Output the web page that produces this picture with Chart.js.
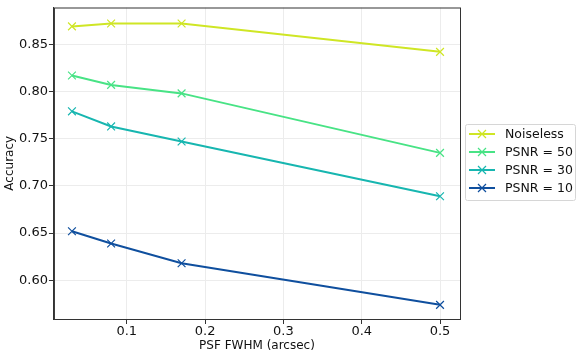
<!DOCTYPE html>
<html>
<head>
<meta charset="utf-8">
<script src="https://cdn.jsdelivr.net/npm/chart.js@4/dist/chart.umd.min.js"></script>
<style>
html,body{margin:0;padding:0;background:#fff;}
#wrap{width:581px;height:358px;position:relative;}
</style>
</head>
<body>
<div id="wrap"><canvas id="c" width="581" height="358"></canvas></div>
<script>
const psfFwhm = [0.03, 0.08, 0.17, 0.5];
const seriesLabels = ['Noiseless', 'PSNR = 50', 'PSNR = 30', 'PSNR = 10'];
const noiseless = [0.869, 0.872, 0.872, 0.842];
const psnr50 = [0.817, 0.807, 0.798, 0.735];
const psnr30 = [0.779, 0.763, 0.747, 0.689];
const psnr10 = [0.652, 0.639, 0.618, 0.574];
const xTicks = [0.1, 0.2, 0.3, 0.4, 0.5];
const yTicks = [0.60, 0.65, 0.70, 0.75, 0.80, 0.85];

const colors = ['#cfe625', '#48e385', '#17b6b0', '#0f4f9e'];
const values = [noiseless, psnr50, psnr30, psnr10];

const datasets = values.map((vals, i) => ({
  label: seriesLabels[i],
  data: vals.map((v, j) => ({x: psfFwhm[j], y: v})),
  borderColor: colors[i],
  backgroundColor: colors[i],
  borderWidth: 2,
  pointStyle: 'crossRot',
  pointRadius: 5.5,
  pointHoverRadius: 5.5,
  pointBorderWidth: 1.2,
  tension: 0,
  fill: false
}));

const font = {family: 'DejaVu Sans', size: 13, lineHeight: 1};
const titleFont = {family: 'DejaVu Sans', size: 12, lineHeight: 1};

const framePlugin = {
  id: 'frame',
  afterDraw(chart) {
    const {ctx, chartArea: a} = chart;
    ctx.save();
    ctx.strokeStyle = '#333';
    ctx.lineWidth = 1;
    ctx.strokeRect(a.left + 0.5, a.top + 0.5, a.right - a.left, a.bottom - a.top);
    // legend
    const lx = 465.5, ly = 124.5, lw = 110, lh = 76;
    ctx.fillStyle = 'rgba(255,255,255,0.9)';
    ctx.strokeStyle = '#d6d6d6';
    ctx.lineWidth = 1;
    const r = 2;
    ctx.beginPath();
    ctx.moveTo(lx + r, ly);
    ctx.lineTo(lx + lw - r, ly);
    ctx.quadraticCurveTo(lx + lw, ly, lx + lw, ly + r);
    ctx.lineTo(lx + lw, ly + lh - r);
    ctx.quadraticCurveTo(lx + lw, ly + lh, lx + lw - r, ly + lh);
    ctx.lineTo(lx + r, ly + lh);
    ctx.quadraticCurveTo(lx, ly + lh, lx, ly + lh - r);
    ctx.lineTo(lx, ly + r);
    ctx.quadraticCurveTo(lx, ly, lx + r, ly);
    ctx.closePath();
    ctx.fill();
    ctx.stroke();
    ctx.font = '12.5px "DejaVu Sans"';
    ctx.textBaseline = 'middle';
    chart.data.datasets.forEach((ds, i) => {
      const y = 134 + i * 18;
      ctx.strokeStyle = ds.borderColor;
      ctx.lineWidth = 2;
      ctx.beginPath();
      ctx.moveTo(469, y);
      ctx.lineTo(495, y);
      ctx.stroke();
      ctx.lineWidth = 1.2;
      ctx.beginPath();
      ctx.moveTo(478, y - 4); ctx.lineTo(486, y + 4);
      ctx.moveTo(478, y + 4); ctx.lineTo(486, y - 4);
      ctx.stroke();
      ctx.fillStyle = '#111';
      ctx.fillText(ds.label, 505, y + 1);
    });
    ctx.restore();
  }
};

new Chart(document.getElementById('c'), {
  type: 'line',
  data: {datasets},
  plugins: [framePlugin],
  options: {
    responsive: false,
    animation: false,
    layout: {padding: {left: 4, right: 121, top: -11, bottom: 6}},
    plugins: {legend: {display: false}, tooltip: {enabled: false}},
    scales: {
      x: {
        type: 'linear',
        min: 0.007,
        max: 0.5255,
        afterBuildTicks: (axis) => { axis.ticks = xTicks.map(v => ({value: v})); },
        ticks: {font, color: '#111', padding: 1, maxRotation: 0,
          callback: (v) => String(Math.round(v * 10) / 10)},
        grid: {color: '#ececec', tickColor: '#333', tickLength: 5, drawTicks: true},
        border: {color: '#333'},
        title: {display: true, text: 'PSF FWHM (arcsec)', font: titleFont, color: '#111', padding: {top: 1, bottom: 0}}
      },
      y: {
        type: 'linear',
        min: 0.559,
        max: 0.889,
        afterBuildTicks: (axis) => { axis.ticks = yTicks.map(v => ({value: v})); },
        ticks: {font, color: '#111', padding: 1, callback: (v) => v.toFixed(2)},
        grid: {color: '#ececec', tickColor: '#333', tickLength: 5, drawTicks: true},
        border: {color: '#333'},
        title: {display: true, text: 'Accuracy', font: titleFont, color: '#111', padding: {top: 0, bottom: 2}}
      }
    }
  }
});
</script>
</body>
</html>
